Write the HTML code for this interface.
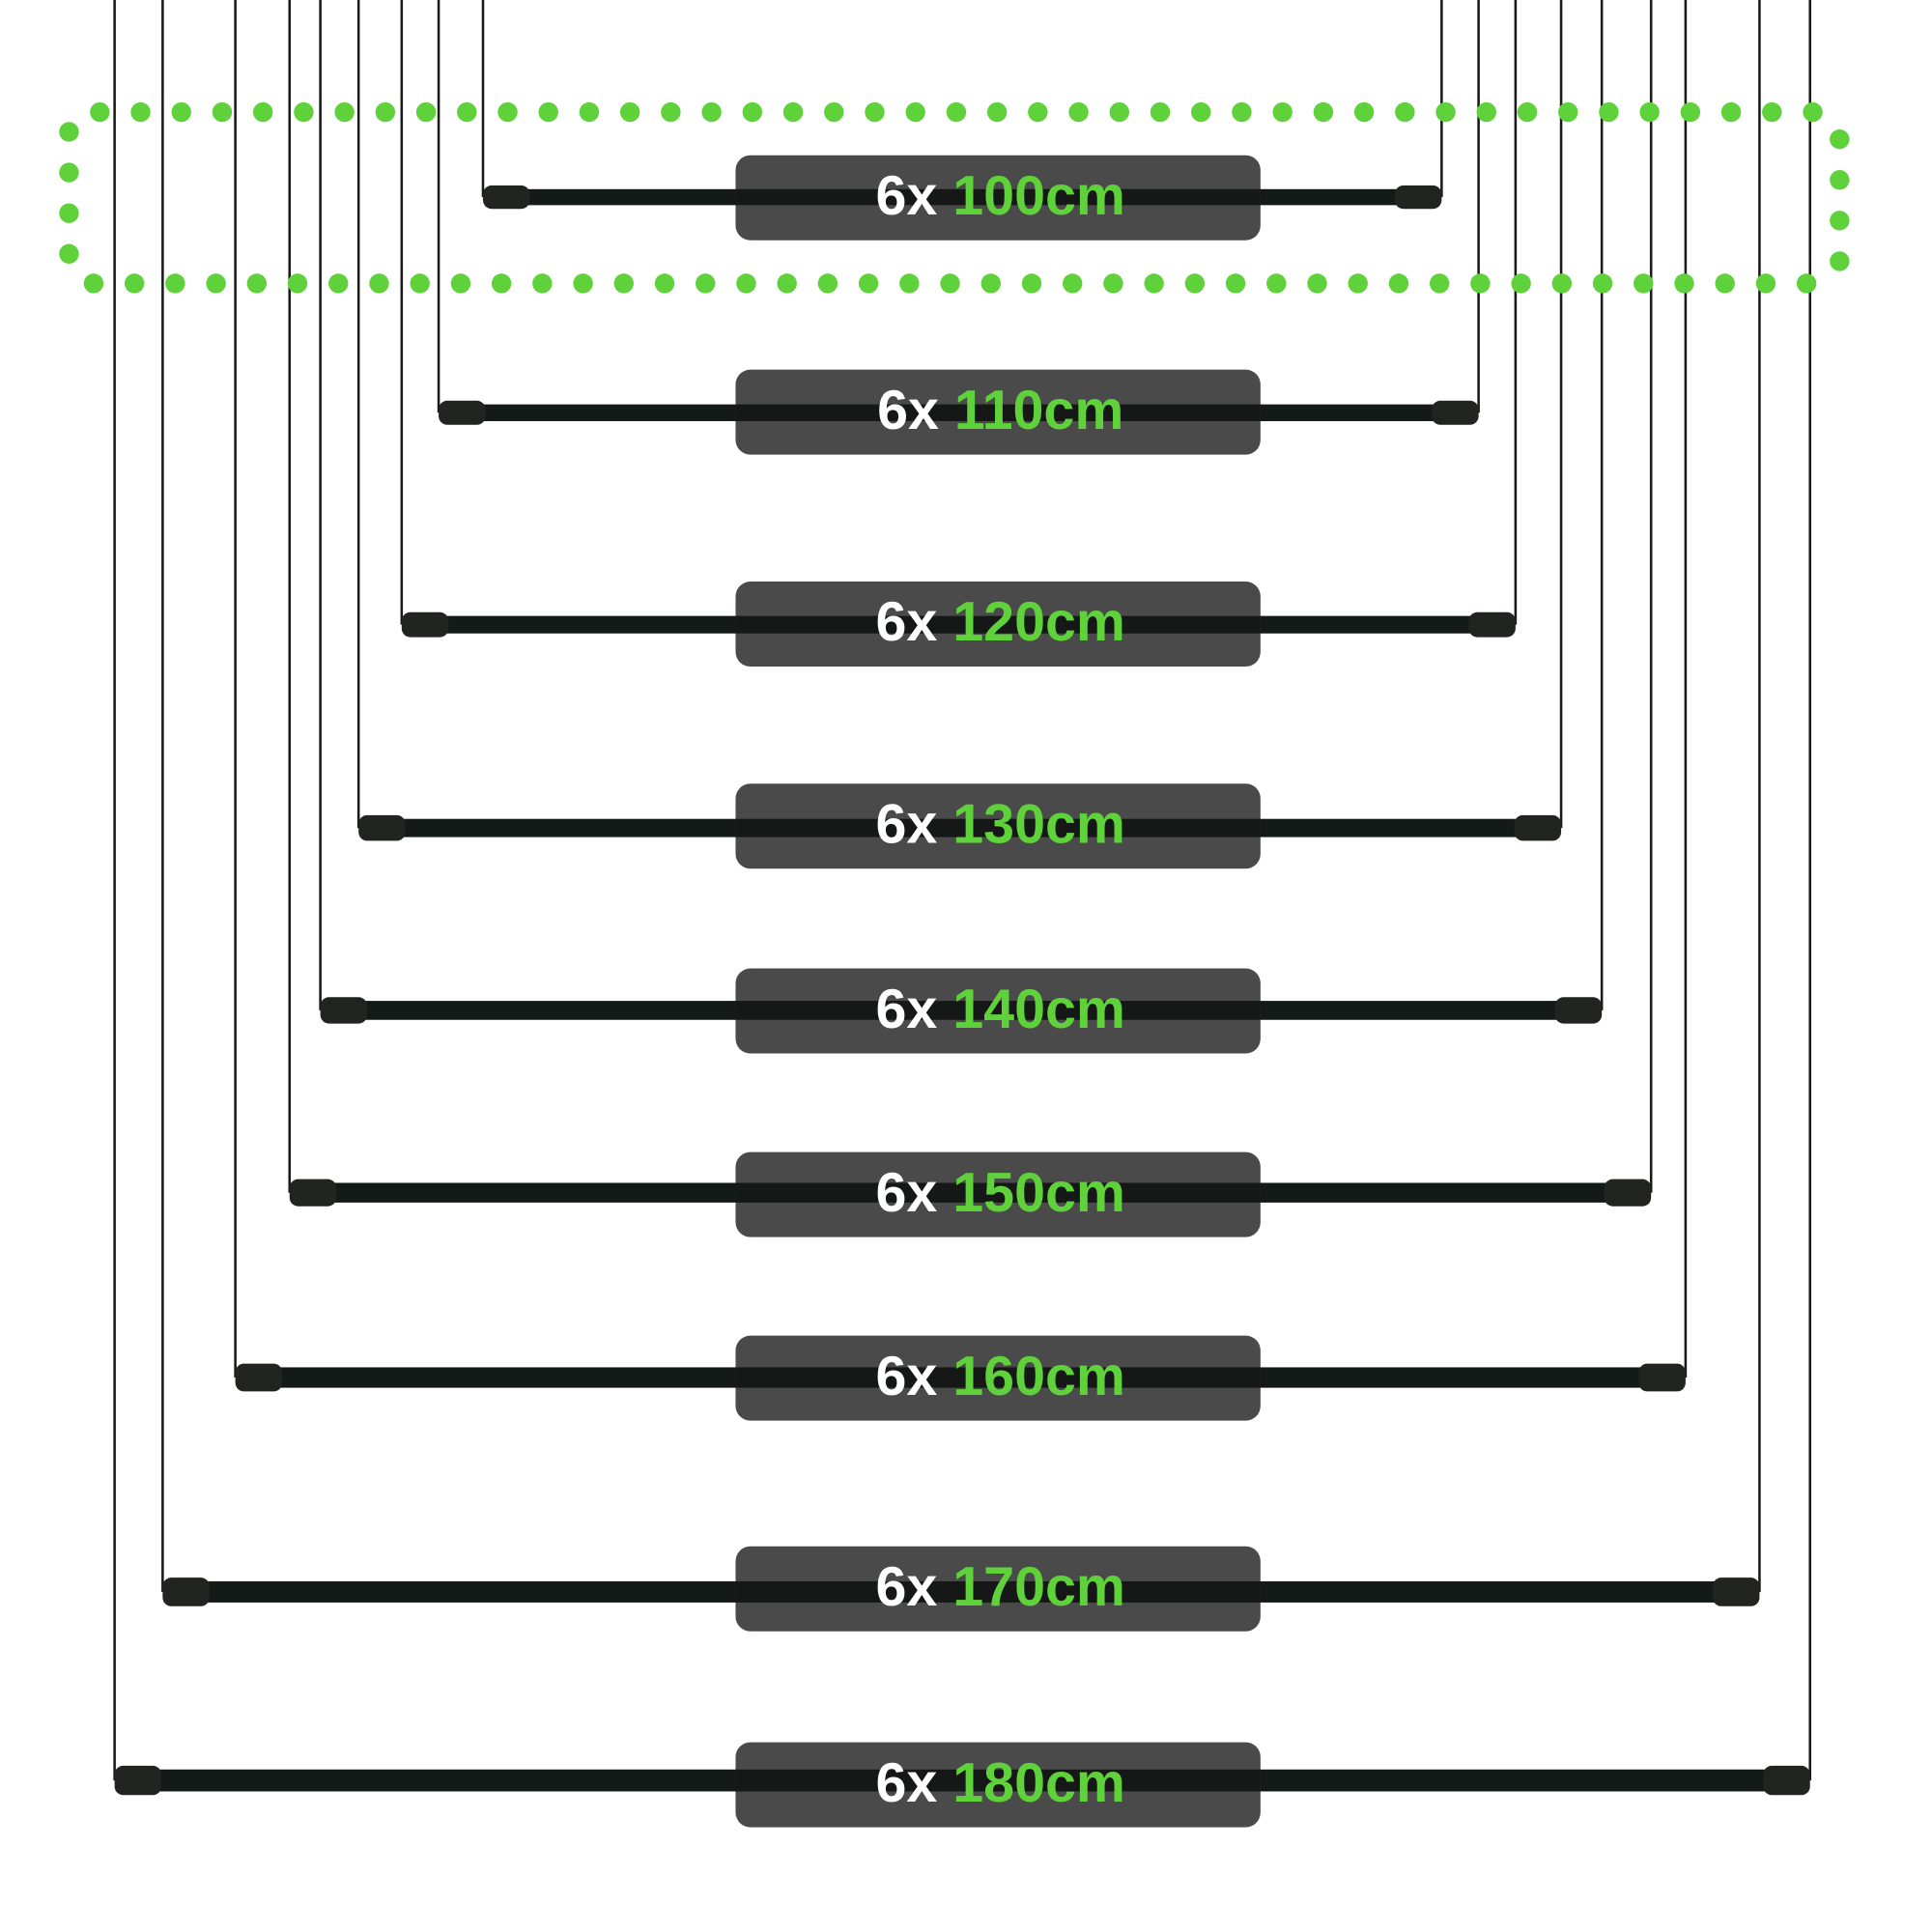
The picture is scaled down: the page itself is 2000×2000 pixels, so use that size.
<!DOCTYPE html>
<html><head><meta charset="utf-8"><style>html,body{margin:0;padding:0;background:#fff}svg{display:block}</style></head>
<body>
<svg width="2000" height="2000" viewBox="0 0 1568 1568" xmlns="http://www.w3.org/2000/svg">
<rect width="1568" height="1568" fill="#fff"/>
<g fill="none" stroke="#1a1a1a" stroke-width="2">
<path d="M392 0V160M1170 0V160"/>
<path d="M356 0V335M1200 0V335"/>
<path d="M326 0V507M1230 0V507"/>
<path d="M291 0V672M1267 0V672"/>
<path d="M260 0V820M1300 0V820"/>
<path d="M235 0V968M1340 0V968"/>
<path d="M191 0V1118M1368 0V1118"/>
<path d="M132 0V1292M1428 0V1292"/>
<path d="M93 0V1445M1469 0V1445"/>
</g>
<g id="bars"></g>
<g id="labels" font-family="Liberation Sans, sans-serif" font-size="45" font-weight="bold" text-anchor="middle"></g>
<g id="dots" fill="#5fd13a"></g>
<script>
const ns="http://www.w3.org/2000/svg";
const data=[[100,392,1170,160,126],[110,356,1200,335,300],[120,326,1230,507,472],[130,291,1267,672,636],[140,260,1300,820,786],[150,235,1340,968,935],[160,191,1368,1118,1084],[170,132,1428,1292,1255],[180,93,1469,1445,1414]];
const bars=document.getElementById('bars'),labels=document.getElementById('labels'),dots=document.getElementById('dots');
function el(p,t,a){const e=document.createElementNS(ns,t);for(const k in a)e.setAttribute(k,a[k]);p.appendChild(e);return e;}
data.forEach(([n,l,r,y,by],i)=>{
 const th=13+i*0.6, ct=th+6;
 el(bars,'rect',{x:l+20,y:y-th/2,width:r-l-40,height:th,fill:'#141a17'});
 el(bars,'rect',{x:l,y:y-ct/2,width:38,height:ct,rx:7,fill:'#222421'});
 el(bars,'rect',{x:r-38,y:y-ct/2,width:38,height:ct,rx:7,fill:'#222421'});
 el(labels,'rect',{x:597,y:by,width:426,height:69,rx:12,fill:'#4a4a4a'});
 el(labels,'rect',{x:597,y:y-th/2,width:426,height:th,fill:'#0d0f0e',opacity:'0.85'});
 const t=el(labels,'text',{x:812,y:by+48});
 const a=el(t,'tspan',{fill:'#fff'});a.textContent='6x ';
 const b=el(t,'tspan',{fill:'#5fd13a'});b.textContent=n+'cm';
});
for(let x=81;x<=1472;x+=33.1)el(dots,'circle',{cx:x,cy:91,r:8});
for(let x=76;x<=1467;x+=33.1)el(dots,'circle',{cx:x,cy:230,r:8});
[107,140,173,206].forEach(y=>el(dots,'circle',{cx:56,cy:y,r:8}));
[113,146,179,212].forEach(y=>el(dots,'circle',{cx:1493,cy:y,r:8}));
</script>
</svg>
</body></html>
